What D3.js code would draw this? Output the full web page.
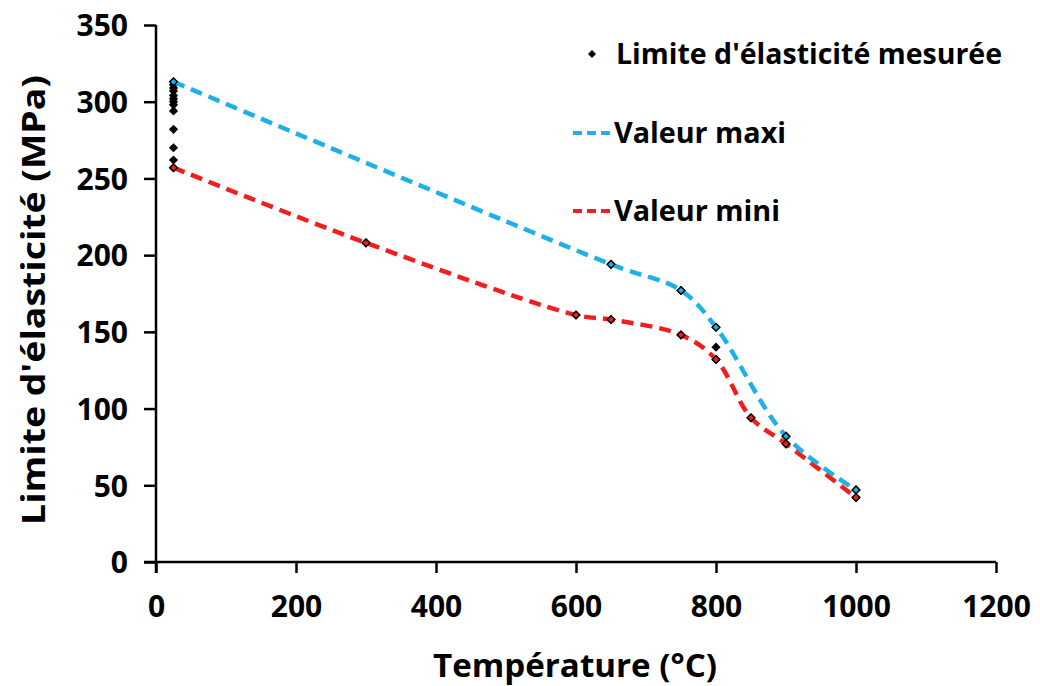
<!DOCTYPE html>
<html><head><meta charset="utf-8">
<script src="https://cdn.jsdelivr.net/npm/d3@7"></script>
<style>
html,body{margin:0;padding:0;background:#fff;}
text{font-family:"Open Sans","Liberation Sans",sans-serif;font-weight:700;fill:#000;}
</style></head>
<body><svg id="c" width="1040" height="686"></svg>
<script>
// Measured points (Température °C, Limite d'élasticité MPa)
const tempMesure = [25,25,25,25,25,25,25,25,25,25,25,25,25,300,600,650,650,750,750,800,800,800,850,900,900,1000,1000];
const limiteMesure = [313,311,309,307,304,302,300,298,294,282,270,262,257,208,161,194,158,177,148,153,140,132,94,82,77,47,42];
// Valeur maxi
const tempMaxi = [25,650,750,800,900,1000];
const valMaxi = [313,194,177,153,82,47];
// Valeur mini
const tempMini = [25,300,600,650,750,800,850,900,1000];
const valMini = [257,208,161,158,148,132,94,77,42];
// Axis ticks
const xTicks = [0,200,400,600,800,1000,1200];
const yTicks = [0,50,100,150,200,250,300,350];

const svg = d3.select("#c");
const x = d3.scaleLinear().domain([0,1200]).range([156,996]);
const y = d3.scaleLinear().domain([0,350]).range([562,25]);
const blue = "#1fb0e8", red = "#f01e1e";

// axes
const xAxis = d3.axisBottom(x).tickValues(xTicks).tickSize(11).tickPadding(14).tickFormat(d3.format("d"));
const gx = svg.append("g").attr("transform","translate(0,562)").call(xAxis);
const yAxis = d3.axisLeft(y).tickValues(yTicks).tickSize(12).tickPadding(14).tickFormat(d3.format("d"));
const gy = svg.append("g").attr("transform","translate(156,0)").call(yAxis);
[gx,gy].forEach(g=>{
  g.select(".domain").attr("stroke","#000").attr("stroke-width",2.5);
  g.selectAll(".tick line").attr("stroke","#000").attr("stroke-width",2.5);
  g.selectAll(".tick text").style("font-size","30px").style("font-family","'Open Sans',sans-serif").style("font-weight","700").attr("fill","#000");
});
gx.select(".domain").attr("d","M144,0H996");
gy.select(".domain").attr("d","M0,573V25");
gy.selectAll(".tick text").attr("x",-28).attr("dy","0.36em");
gx.selectAll(".tick text").attr("y",34).attr("dy","0.71em");

// titles
svg.append("text").attr("x",575).attr("y",677).attr("text-anchor","middle").style("font-size","32px")
  .attr("textLength",284).attr("lengthAdjust","spacingAndGlyphs").text("Température (°C)");
svg.append("text").attr("transform","translate(45,300) rotate(-90)").attr("text-anchor","middle").style("font-size","32px")
  .attr("textLength",450).attr("lengthAdjust","spacingAndGlyphs").text("Limite d'élasticité (MPa)");

const diamond = (cx,cy,r)=>`M${cx},${cy-r}L${cx+r},${cy}L${cx},${cy+r}L${cx-r},${cy}Z`;

// measured points
svg.append("g").selectAll("path").data(tempMesure.map((t,i)=>[t,limiteMesure[i]])).join("path")
  .attr("d",d=>diamond(x(d[0]),y(d[1]),4.6)).attr("fill","#000");

// lines
const line = d3.line().x(d=>x(d[0])).y(d=>y(d[1])).curve(d3.curveCatmullRom.alpha(0.5));
const maxiData = tempMaxi.map((t,i)=>[t,valMaxi[i]]);
const miniData = tempMini.map((t,i)=>[t,valMini[i]]);
svg.append("path").attr("d",line(miniData)).attr("fill","none").attr("stroke",red).attr("stroke-width",4.5).attr("stroke-dasharray","12,7");
svg.append("path").attr("d",line(maxiData)).attr("fill","none").attr("stroke",blue).attr("stroke-width",4.5).attr("stroke-dasharray","12,7");

// vertex markers
[[maxiData,blue],[miniData,red]].forEach(([data,col])=>{
  svg.append("g").selectAll("path").data(data).join("path")
    .attr("d",d=>diamond(x(d[0]),y(d[1]),3.8)).attr("fill",col).attr("stroke","#000").attr("stroke-width",1.4);
});

// legend
const lg = svg.append("g");
lg.append("path").attr("d",diamond(592,54,4)).attr("fill","#000");
lg.append("text").attr("x",616).attr("y",54).attr("dy","0.35em").style("font-size","28px")
  .attr("textLength",386).attr("lengthAdjust","spacingAndGlyphs").text("Limite d'élasticité mesurée");
lg.append("line").attr("x1",573).attr("x2",612).attr("y1",133).attr("y2",133).attr("stroke",blue).attr("stroke-width",4).attr("stroke-dasharray","9,5");
lg.append("text").attr("x",614).attr("y",133).attr("dy","0.35em").style("font-size","28px")
  .attr("textLength",172).attr("lengthAdjust","spacingAndGlyphs").text("Valeur maxi");
lg.append("line").attr("x1",573).attr("x2",612).attr("y1",211).attr("y2",211).attr("stroke",red).attr("stroke-width",4).attr("stroke-dasharray","9,5");
lg.append("text").attr("x",614).attr("y",211).attr("dy","0.35em").style("font-size","28px")
  .attr("textLength",166).attr("lengthAdjust","spacingAndGlyphs").text("Valeur mini");
</script></body></html>
